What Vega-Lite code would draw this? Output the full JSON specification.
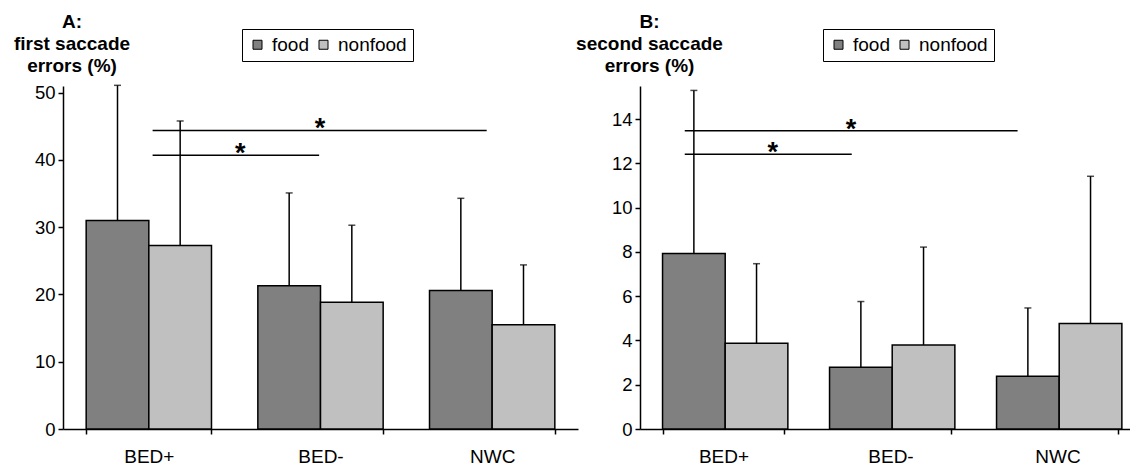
{
  "$schema": "https://vega.github.io/schema/vega-lite/v6.json",
  "padding": {"left": 13, "top": 12, "right": -11, "bottom": 0},
  "bounds": "flush",
  "spacing": 62,
  "config": {
    "font": "Liberation Sans",
    "view": {"stroke": null},
    "axis": {
      "domainColor": "black", "domainWidth": 1.5, "tickColor": "black", "tickWidth": 1.5,
      "tickSize": 5, "labelColor": "black", "titleColor": "black", "grid": false,
      "labelFont": "Liberation Sans", "titleFont": "Liberation Sans"
    },
    "legend": {
      "labelFont": "Liberation Sans", "labelColor": "black", "labelFontSize": 19,
      "symbolType": "square", "symbolSize": 81, "symbolStrokeColor": "black", "symbolStrokeWidth": 1,
      "labelOffset": 5, "padding": 6, "strokeColor": "black", "fillColor": "white"
    }
  },
  "datasets": {
    "a_bars": [
      {"group": "BED+", "cond": "food", "value": 31.0, "upper": 51.1},
      {"group": "BED+", "cond": "nonfood", "value": 27.3, "upper": 45.8},
      {"group": "BED-", "cond": "food", "value": 21.3, "upper": 35.1},
      {"group": "BED-", "cond": "nonfood", "value": 18.85, "upper": 30.3},
      {"group": "NWC", "cond": "food", "value": 20.6, "upper": 34.3},
      {"group": "NWC", "cond": "nonfood", "value": 15.5, "upper": 24.4}
    ],
    "a_sig": [
      {"x1": 0.522, "x2": 2.468, "xs": 1.497, "y": 44.4, "label": "*"},
      {"x1": 0.522, "x2": 1.492, "xs": 1.033, "y": 40.7, "label": "*"}
    ],
    "b_bars": [
      {"group": "BED+", "cond": "food", "value": 7.93, "upper": 15.3},
      {"group": "BED+", "cond": "nonfood", "value": 3.88, "upper": 7.47},
      {"group": "BED-", "cond": "food", "value": 2.79, "upper": 5.76},
      {"group": "BED-", "cond": "nonfood", "value": 3.8, "upper": 8.22},
      {"group": "NWC", "cond": "food", "value": 2.38, "upper": 5.47},
      {"group": "NWC", "cond": "nonfood", "value": 4.77, "upper": 11.42}
    ],
    "b_sig": [
      {"x1": 0.268, "x2": 2.261, "xs": 1.264, "y": 13.48, "label": "*"},
      {"x1": 0.268, "x2": 1.268, "xs": 0.795, "y": 12.42, "label": "*"}
    ]
  },
  "resolve": {"scale": {"color": "independent"}, "legend": {"color": "independent"}},
  "hconcat": [
    {
      "width": 515, "height": 343,
      "resolve": {"scale": {"x": "independent"}},
      "layer": [
        {
          "data": {"name": "a_bars"},
          "encoding": {
            "x": {"field": "group", "type": "nominal", "sort": ["BED+", "BED-", "NWC"],
              "scale": {"paddingInner": 0.27, "paddingOuter": 0.135},
              "axis": {"title": null, "labelAngle": 0, "tickBand": "extent", "labelFontSize": 19, "labelPadding": 13}},
            "xOffset": {"field": "cond", "type": "nominal", "sort": ["food", "nonfood"], "scale": {"paddingInner": 0, "paddingOuter": 0}}
          },
          "layer": [
            {
              "mark": {"type": "bar", "stroke": "black", "strokeWidth": 1.5},
              "encoding": {
                "y": {"field": "value", "type": "quantitative", "scale": {"domain": [0, 51], "nice": false},
                  "axis": {"values": [0, 10, 20, 30, 40, 50], "labelFontSize": 18.5, "labelPadding": 3,
                    "title": ["A:", "first saccade", "errors (%)"], "titleAngle": 0, "titleAlign": "center",
                    "titleBaseline": "alphabetic", "titleX": 8.5, "titleY": -59, "titleFontSize": 19,
                    "titleFontWeight": "bold", "titleLineHeight": 22}},
                "color": {"field": "cond", "type": "nominal",
                  "scale": {"domain": ["food", "nonfood"], "range": ["#808080", "#c0c0c0"]},
                  "legend": {"title": null, "orient": "none", "direction": "horizontal", "legendX": 179, "legendY": -57, "columnPadding": 5}}
              }
            },
            {
              "mark": {"type": "rule", "color": "black", "strokeWidth": 1.5},
              "encoding": {"y": {"field": "value", "type": "quantitative"}, "y2": {"field": "upper"}}
            },
            {
              "mark": {"type": "tick", "color": "black", "size": 7, "thickness": 1.5},
              "encoding": {"y": {"field": "upper", "type": "quantitative"}}
            }
          ]
        },
        {
          "data": {"name": "a_sig"},
          "layer": [
            {
              "mark": {"type": "rule", "color": "black", "strokeWidth": 1.5},
              "encoding": {
                "x": {"field": "x1", "type": "quantitative", "scale": {"domain": [0, 3], "nice": false, "zero": false}, "axis": null},
                "x2": {"field": "x2"},
                "y": {"field": "y", "type": "quantitative"}
              }
            },
            {
              "mark": {"type": "text", "fontSize": 27, "fontWeight": "bold", "baseline": "alphabetic", "dy": 7, "color": "black"},
              "encoding": {
                "x": {"field": "xs", "type": "quantitative"},
                "y": {"field": "y", "type": "quantitative"},
                "text": {"field": "label"}
              }
            }
          ]
        }
      ]
    },
    {
      "width": 501, "height": 343,
      "resolve": {"scale": {"x": "independent"}},
      "layer": [
        {
          "data": {"name": "b_bars"},
          "encoding": {
            "x": {"field": "group", "type": "nominal", "sort": ["BED+", "BED-", "NWC"],
              "scale": {"paddingInner": 0.27, "paddingOuter": 0.135},
              "axis": {"title": null, "labelAngle": 0, "tickBand": "extent", "labelFontSize": 19, "labelPadding": 13}},
            "xOffset": {"field": "cond", "type": "nominal", "sort": ["food", "nonfood"], "scale": {"paddingInner": 0, "paddingOuter": 0}}
          },
          "layer": [
            {
              "mark": {"type": "bar", "stroke": "black", "strokeWidth": 1.5},
              "encoding": {
                "y": {"field": "value", "type": "quantitative", "scale": {"domain": [0, 15.5], "nice": false},
                  "axis": {"values": [0, 2, 4, 6, 8, 10, 12, 14], "labelFontSize": 18.5, "labelPadding": 3,
                    "title": ["B:", "second saccade", "errors (%)"], "titleAngle": 0, "titleAlign": "center",
                    "titleBaseline": "alphabetic", "titleX": 9, "titleY": -59, "titleFontSize": 19,
                    "titleFontWeight": "bold", "titleLineHeight": 22}},
                "color": {"field": "cond", "type": "nominal",
                  "scale": {"domain": ["food", "nonfood"], "range": ["#808080", "#c0c0c0"]},
                  "legend": {"title": null, "orient": "none", "direction": "horizontal", "legendX": 183, "legendY": -57, "columnPadding": 5}}
              }
            },
            {
              "mark": {"type": "rule", "color": "black", "strokeWidth": 1.5},
              "encoding": {"y": {"field": "value", "type": "quantitative"}, "y2": {"field": "upper"}}
            },
            {
              "mark": {"type": "tick", "color": "black", "size": 7, "thickness": 1.5},
              "encoding": {"y": {"field": "upper", "type": "quantitative"}}
            }
          ]
        },
        {
          "data": {"name": "b_sig"},
          "layer": [
            {
              "mark": {"type": "rule", "color": "black", "strokeWidth": 1.5},
              "encoding": {
                "x": {"field": "x1", "type": "quantitative", "scale": {"domain": [0, 3], "nice": false, "zero": false}, "axis": null},
                "x2": {"field": "x2"},
                "y": {"field": "y", "type": "quantitative"}
              }
            },
            {
              "mark": {"type": "text", "fontSize": 27, "fontWeight": "bold", "baseline": "alphabetic", "dy": 7, "color": "black"},
              "encoding": {
                "x": {"field": "xs", "type": "quantitative"},
                "y": {"field": "y", "type": "quantitative"},
                "text": {"field": "label"}
              }
            }
          ]
        }
      ]
    }
  ]
}
